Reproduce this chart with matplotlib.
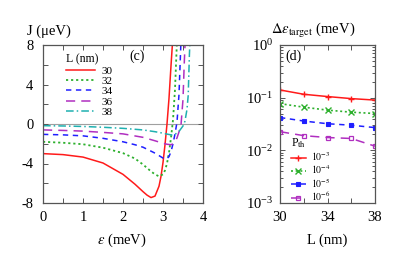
import matplotlib
matplotlib.use("Agg")
import matplotlib.pyplot as plt
from matplotlib.ticker import MultipleLocator, LogLocator, FixedLocator, NullFormatter

plt.rcParams['font.family'] = ['Liberation Serif', 'DejaVu Serif']
plt.rcParams['mathtext.fontset'] = 'stix'
plt.rcParams['axes.unicode_minus'] = False

# ---- panel (c) data: J(eps) for several L ----
L_labels = ['30', '32', '34', '36', '38']
eps_30 = [0, 0.5, 1.0, 1.5, 2.0, 2.3, 2.5, 2.6, 2.7, 2.8, 2.9, 2.95, 3.0, 3.05, 3.1, 3.15, 3.2, 3.25]
J_30 = [-3.0, -3.1, -3.35, -3.95, -5.1, -6.1, -6.85, -7.2, -7.45, -7.3, -6.3, -5.3, -3.9, -2.1, 0.0, 2.6, 5.9, 9.0]
eps_32 = [0, 0.5, 1.0, 1.5, 2.0, 2.3, 2.5, 2.7, 2.8, 2.9, 3.0, 3.05, 3.1, 3.15, 3.2, 3.25, 3.3, 3.35]
J_32 = [-1.8, -1.9, -2.05, -2.4, -2.95, -3.5, -4.1, -4.8, -5.1, -5.3, -5.1, -4.7, -4.0, -2.9, -1.4, 0.4, 3.5, 8.5]
eps_34 = [0, 0.5, 1.0, 1.5, 2.0, 2.3, 2.5, 2.7, 2.8, 2.9, 3.0, 3.05, 3.1, 3.15, 3.2, 3.25, 3.3, 3.35, 3.4, 3.45]
J_34 = [-1.05, -1.1, -1.2, -1.45, -1.8, -2.1, -2.35, -2.75, -2.95, -3.2, -3.45, -3.55, -3.5, -3.3, -2.8, -2.0, -1.0, 0.2, 3.0, 8.5]
eps_36 = [0, 0.5, 1.0, 1.5, 2.0, 2.5, 2.8, 3.0, 3.1, 3.2, 3.25, 3.3, 3.35, 3.4, 3.45, 3.5, 3.53, 3.56]
J_36 = [-0.6, -0.65, -0.72, -0.85, -1.0, -1.35, -1.7, -1.95, -2.05, -2.1, -2.0, -1.8, -1.4, -0.8, -0.1, 2.5, 6.0, 9.0]
eps_38 = [0, 0.5, 1.0, 1.5, 2.0, 2.5, 2.8, 3.0, 3.1, 3.2, 3.25, 3.3, 3.4, 3.5, 3.55, 3.6, 3.63, 3.66, 3.68]
J_38 = [-0.17, -0.2, -0.25, -0.33, -0.44, -0.6, -0.78, -0.93, -1.02, -1.1, -1.1, -1.05, -0.75, -0.2, 0.3, 1.5, 2.9, 7.0, 9.0]

# ---- panel (d) data ----
L_nm = [30, 32, 34, 36, 38]
P_labels = [r'$10^{-3}$', r'$10^{-4}$', r'$10^{-5}$', r'$10^{-6}$']
de_1e3 = [0.14, 0.116, 0.105, 0.096, 0.090]
de_1e4 = [0.077, 0.066, 0.058, 0.053, 0.050]
de_1e5 = [0.042, 0.036, 0.032, 0.030, 0.027]
de_1e6 = [0.0226, 0.019, 0.0175, 0.0168, 0.012]

W, H = 396, 277
fig = plt.figure(figsize=(W / 100, H / 100), dpi=100)

def rect(x0, y0, x1, y1):
    return [x0 / W, 1 - y1 / H, (x1 - x0) / W, (y1 - y0) / H]

red, green, blue, mag, cyan = '#ff1a1a', '#2db02d', '#1f1fff', '#b02fc0', '#1fb0b0'

# ---------------- panel (c) ----------------
ax = fig.add_axes(rect(43, 45, 203, 203))
ax.axhline(0, color='#a0a0a0', lw=0.8, zorder=1)
styles = [
    dict(color=red, ls='-', lw=1.1),
    dict(color=green, ls=(0, (1.2, 1.6)), lw=1.3),
    dict(color=blue, ls=(0, (3.5, 3)), lw=1.1),
    dict(color=mag, ls=(0, (6, 4)), lw=1.1),
    dict(color=cyan, ls=(0, (5, 2, 1, 2)), lw=1.1),
]
for xs, ys, lab, st in zip([eps_30, eps_32, eps_34, eps_36, eps_38],
                           [J_30, J_32, J_34, J_36, J_38], L_labels, styles):
    ax.plot(xs, ys, label=lab, **st)
ax.set_xlim(0, 4)
ax.set_ylim(-8, 8)
ax.xaxis.set_major_locator(MultipleLocator(1))
ax.xaxis.set_minor_locator(MultipleLocator(0.5))
ax.yaxis.set_major_locator(MultipleLocator(4))
ax.yaxis.set_minor_locator(MultipleLocator(2))
ax.tick_params(which='both', direction='in', top=True, right=True, labelsize=10.5, width=0.7, color='#555555')
ax.tick_params(which='major', length=3.5)
ax.tick_params(which='minor', length=3.5)
ax.tick_params(axis='x', pad=6)
ax.tick_params(axis='y', pad=7)
for s in ax.spines.values():
    s.set_color('#555555'); s.set_linewidth(0.9)
leg = ax.legend(title='L (nm)', loc='upper left', bbox_to_anchor=(0.1, 0.99), frameon=False,
                fontsize=8, title_fontsize=8.5, handlelength=2.6, handletextpad=0.6,
                labelspacing=0.05, borderaxespad=0.2)
leg._legend_box.align = 'left'
ax.text(0.59, 0.93, '(c)', transform=ax.transAxes, fontsize=10, ha='center', va='center')
fig.text(49 / W, 1 - 31 / H, 'J (μeV)', fontsize=10.5, ha='center', va='center')
fig.text(122 / W, 1 - 240 / H, r'$\epsilon$ (meV)', fontsize=10.5, ha='center', va='center')

# ---------------- panel (d) ----------------
bx = fig.add_axes(rect(280, 45, 375, 203))
series = [de_1e3, de_1e4, de_1e5, de_1e6]
dstyles = [
    dict(color=red, ls='-', marker='+', ms=5, mew=1.0, mfc='none'),
    dict(color=green, ls=(0, (1.2, 1.6)), marker='x', ms=4, mew=1.0, lw=1.2),
    dict(color=blue, ls=(0, (3.5, 3)), marker='s', ms=3.2, mew=0.8),
    dict(color=mag, ls=(0, (6, 4)), marker='s', ms=3.5, mew=0.9, mfc='none'),
]
for ys, lab, st in zip(series, P_labels, dstyles):
    kw = dict(lw=1.1)
    kw.update(st)
    bx.plot(L_nm, ys, label=lab, **kw)
bx.set_yscale('log')
bx.set_xlim(30, 38)
bx.set_ylim(1e-3, 1)
bx.xaxis.set_major_locator(FixedLocator([30, 34, 38]))
bx.xaxis.set_minor_locator(FixedLocator([32, 36]))
bx.yaxis.set_major_locator(LogLocator(base=10, numticks=10))
bx.yaxis.set_minor_locator(LogLocator(base=10, subs=range(2, 10), numticks=20))
bx.yaxis.set_minor_formatter(NullFormatter())
bx.tick_params(which='both', direction='in', top=True, right=True, labelsize=10.5, width=0.7, color='#555555')
bx.tick_params(which='major', length=3.5)
bx.tick_params(which='minor', length=2)
bx.tick_params(axis='x', which='minor', length=3.5)
bx.tick_params(axis='x', pad=6)
bx.tick_params(axis='y', pad=5)
for s in bx.spines.values():
    s.set_color('#555555'); s.set_linewidth(0.9)
leg2 = bx.legend(title=r'P$_{\rm th}$', loc='lower left', bbox_to_anchor=(0.05, -0.04), frameon=False,
                 fontsize=7, title_fontsize=8.5, handlelength=1.6, handletextpad=0.5,
                 labelspacing=0.0, borderaxespad=0.2)
leg2._legend_box.align = 'left'
bx.text(0.14, 0.93, '(d)', transform=bx.transAxes, fontsize=10, ha='center', va='center')
fig.text(313 / W, 1 - 30 / H, r'$\mathit{\Delta\epsilon}_{\mathrm{target}}$ (meV)', fontsize=10.5,
         ha='center', va='center')
fig.text(327 / W, 1 - 240 / H, 'L (nm)', fontsize=10.5, ha='center', va='center')

fig.savefig('out.png', dpi=100)
